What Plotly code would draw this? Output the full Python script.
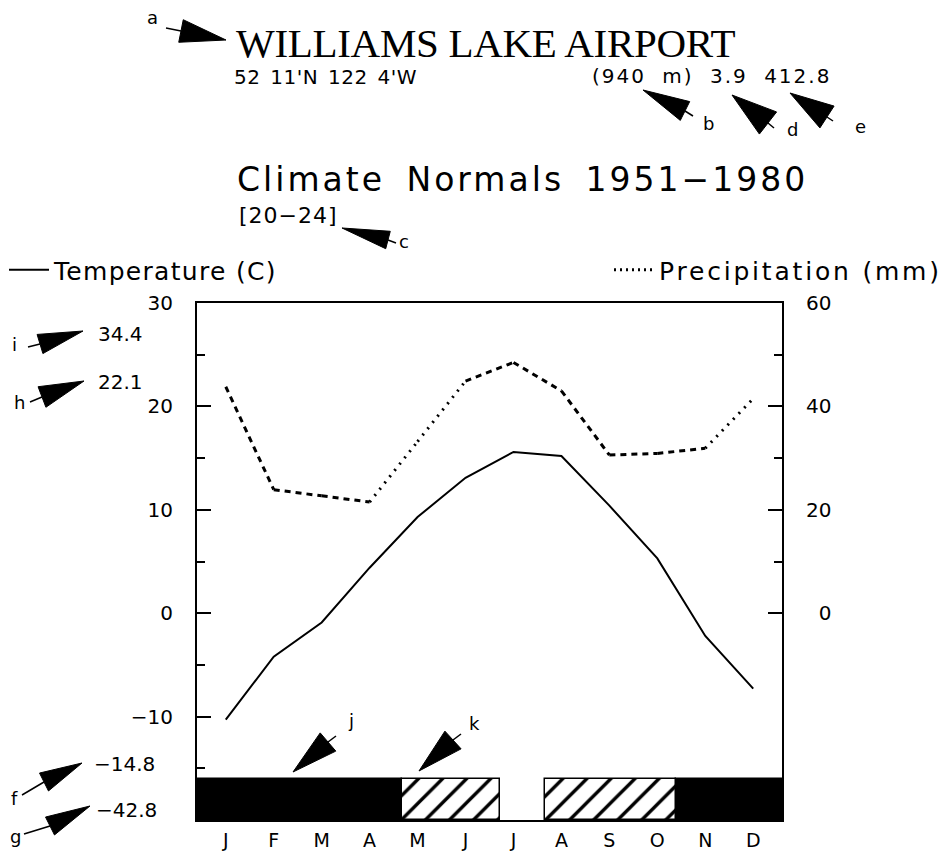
import math
import plotly.graph_objects as go

# ---------------- data ----------------
months = ["J", "F", "M", "A", "M", "J", "J", "A", "S", "O", "N", "D"]
month_num = list(range(1, 13))
temperature = [-10.3, -4.2, -0.9, 4.4, 9.3, 13.1, 15.6, 15.2, 10.4, 5.3, -2.2, -7.3]
precipitation = [43.8, 23.9, 22.7, 21.5, 33.2, 44.9, 48.5, 43.0, 30.6, 30.9, 31.9, 41.5]

temp_ticks = [-10, 0, 10, 20, 30]
temp_minor = [-15, -5, 5, 15, 25]
precip_ticks = [0, 20, 40, 60]
precip_ticktext = ["\u20070", "20", "40", "60"]
precip_minor = [10, 30, 50]

frost_start = [0.4, 4.67, 7.66, 10.39]
frost_end = [4.67, 6.72, 10.39, 12.6]
frost_kind = ["certain", "possible", "possible", "certain"]

station = "WILLIAMS LAKE AIRPORT"
coords = "52 11'N 122 4'W"
elev_info = "(940 m) 3.9 412.8"
period = "Climate Normals 1951\u22121980"
years_range = "[20\u221224]"
side_values = ["34.4", "22.1", "\u221214.8", "\u221242.8"]

# ---------------- geometry helpers ----------------
W, H = 946, 855
L, R, T, B = 197, 164, 303, 35
PW, PH = W - L - R, H - T - B


def px(x):
    return (x - L) / PW


def py(y):
    return (T + PH - y) / PH


fig = go.Figure()

# frost bars
for kind in ["certain", "possible"]:
    xs = [(s + e) / 2 for s, e, k in zip(frost_start, frost_end, frost_kind) if k == kind]
    ws = [e - s for s, e, k in zip(frost_start, frost_end, frost_kind) if k == kind]
    if kind == "certain":
        marker = dict(color="black", line=dict(color="black", width=1.5))
    else:
        marker = dict(color="white", line=dict(color="black", width=1.5),
                      pattern=dict(shape="/", fgcolor="black", bgcolor="white",
                                   fgopacity=1, fillmode="replace",
                                   size=17, solidity=0.2))
    fig.add_trace(go.Bar(x=xs, width=ws, y=[4] * len(xs), base=[-20] * len(xs),
                         marker=marker, showlegend=False, hoverinfo="skip"))

# temperature
fig.add_trace(go.Scatter(x=month_num, y=temperature, mode="lines",
                         line=dict(color="black", width=2),
                         name='<span style="letter-spacing:1.3px">Temperature (C)</span>',
                         legend="legend"))

# precipitation (plotter style: steep rising parts dotted, others dashed)
for i in range(len(month_num) - 1):
    rising = precipitation[i + 1] - precipitation[i] > 5
    dash = "2px,6px" if rising else "6px,5px"
    fig.add_trace(go.Scatter(x=month_num[i:i + 2], y=precipitation[i:i + 2],
                             yaxis="y2", mode="lines",
                             line=dict(color="black", width=3, dash=dash),
                             showlegend=False, hoverinfo="skip"))
fig.add_trace(go.Scatter(x=[None], y=[None], yaxis="y2", mode="lines",
                         line=dict(color="black", width=3, dash="2px,4px"),
                         name='<span style="letter-spacing:2.8px">Precipitation (mm)</span>',
                         legend="legend2"))

tickfont = dict(family="DejaVu Sans", size=20, color="black")

fig.update_layout(
    width=W, height=H,
    margin=dict(l=L, r=R, t=T, b=B, autoexpand=False),
    paper_bgcolor="white", plot_bgcolor="white",
    barmode="overlay", bargap=0,
    xaxis=dict(range=[0.4, 12.6], tickvals=month_num, ticktext=months,
               showline=True, mirror=True, linecolor="black", linewidth=2,
               ticks="", showgrid=False, zeroline=False,
               tickfont=dict(family="DejaVu Sans", size=19, color="black"),
               ticklabelstandoff=2),
    yaxis=dict(range=[-20, 30], tickvals=temp_ticks, ticks="inside", ticklen=14,
               tickwidth=2, tickcolor="black",
               minor=dict(tickvals=temp_minor, ticks="inside", ticklen=8,
                          tickwidth=2, tickcolor="black"),
               showline=True, linecolor="black", linewidth=2, showgrid=False,
               zeroline=False, tickfont=tickfont, ticklabelstandoff=18),
    yaxis2=dict(range=[-40, 60], tickvals=precip_ticks, ticktext=precip_ticktext,
                overlaying="y", side="right", ticks="inside", ticklen=14,
                tickwidth=2, tickcolor="black",
                minor=dict(tickvals=precip_minor, ticks="inside", ticklen=8,
                           tickwidth=2, tickcolor="black"),
                showline=True, linecolor="black", linewidth=2, showgrid=False,
                zeroline=False, tickfont=tickfont, ticklabelstandoff=18),
    legend=dict(x=px(4), y=py(270), xanchor="left", yanchor="middle",
                bgcolor="rgba(0,0,0,0)", itemwidth=40,
                font=dict(family="DejaVu Sans", size=25, color="black")),
    legend2=dict(x=px(609), y=py(270), xanchor="left", yanchor="middle",
                 bgcolor="rgba(0,0,0,0)", itemwidth=40,
                 font=dict(family="DejaVu Sans", size=25, color="black")),
    showlegend=True,
)

ann = []


def text(s, x, y, size, family="DejaVu Sans", xanchor="left", style=None):
    if style:
        s = '<span style="%s">%s</span>' % (style, s)
    ann.append(dict(text=s, x=px(x), y=py(y), xref="paper", yref="paper",
                    xanchor=xanchor, yanchor="middle", showarrow=False,
                    font=dict(family=family, size=size, color="black")))


text(station, 234, 43, 41, family="Liberation Serif", style="letter-spacing:-0.3px")
text(coords, 232, 77, 20, style="letter-spacing:0.5px;word-spacing:3px")
text(elev_info, 590, 76, 20, style="letter-spacing:2px;word-spacing:8px")
text(period, 235, 180, 33, style="letter-spacing:3px;word-spacing:8px")
text(years_range, 237, 215, 22, style="letter-spacing:1px")
text(side_values[0], 96, 334, 20)
text(side_values[1], 96, 382, 20)
text(side_values[2], 92, 764, 20)
text(side_values[3], 94, 810, 20)

letters = [("a", 152, 17), ("b", 708, 123), ("d", 792, 130), ("e", 860, 127),
           ("c", 404, 241), ("i", 14, 344), ("h", 19, 402), ("f", 14, 798),
           ("g", 15, 836), ("j", 351, 720), ("k", 474, 723)]
for s, x, y in letters:
    text(s, x, y, 18, xanchor="center")

# arrows: tip, base centre, half width, tail end (pixels)
arrows = [
    ((226, 40), (181, 31), 11.5, (166, 28)),
    ((643, 90), (685, 111), 10.5, (693, 116)),
    ((732, 95), (768, 123), 14, (774, 128)),
    ((790, 93), (827, 117), 13, (833, 121)),
    ((342, 228), (388, 240), 9, (396, 243)),
    ((83, 331), (40, 344), 10, (28, 347)),
    ((84, 381), (42, 397), 11, (30, 402)),
    ((82, 763), (44, 782), 10, (22, 795)),
    ((90, 806), (50, 826), 10, (24, 834)),
    ((293, 772), (328, 742), 12, (336, 736)),
    ((419, 771), (453, 740), 12, (461, 734)),
]
shapes = []
for tip, base, hw, tail in arrows:
    dx, dy = tip[0] - base[0], tip[1] - base[1]
    n = math.hypot(dx, dy)
    nx, ny = -dy / n, dx / n
    b1 = (base[0] + nx * hw, base[1] + ny * hw)
    b2 = (base[0] - nx * hw, base[1] - ny * hw)
    path = "M%f,%f L%f,%f L%f,%f Z" % (px(tip[0]), py(tip[1]), px(b1[0]), py(b1[1]),
                                        px(b2[0]), py(b2[1]))
    shapes.append(dict(type="path", path=path, xref="paper", yref="paper",
                       fillcolor="black", line=dict(color="black", width=1)))
    shapes.append(dict(type="line", x0=px(base[0]), y0=py(base[1]), x1=px(tail[0]),
                       y1=py(tail[1]), xref="paper", yref="paper",
                       line=dict(color="black", width=1.5)))

fig.update_layout(annotations=ann, shapes=shapes)
fig.write_html("out.html")
